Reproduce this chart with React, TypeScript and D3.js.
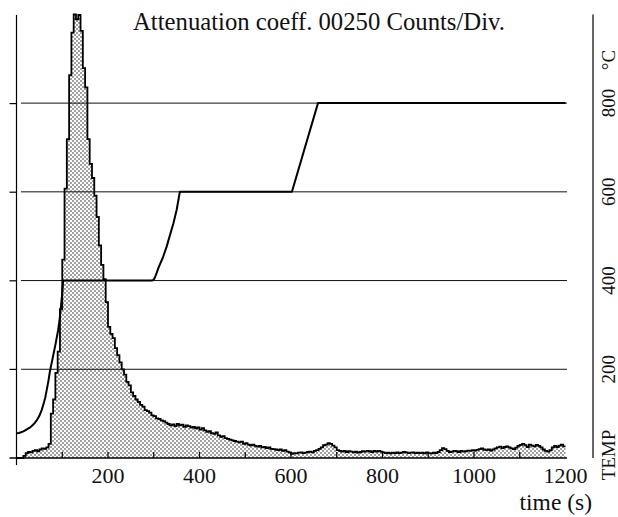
import React from "react";
import * as d3 from "d3";

// ---- data ----
const BIN_WIDTH = 5; // seconds per histogram bin, bins start at t = 0
const counts: number[] = [
  0, 0, 0, 6, 14, 17, 16, 20, 22, 19, 24, 27, 26, 30, 40, 125, 165, 240, 300, 420,
  560, 760, 900, 1080, 1200, 1252, 1238, 1250, 1205, 1100, 1046, 900, 830, 790, 740, 680, 600, 545, 505, 440,
  370, 350, 338, 310, 290, 270, 250, 235, 215, 205, 185, 175, 165, 158, 150, 145, 135, 132, 128, 120,
  118, 112, 110, 106, 104, 100, 96, 92, 95, 90, 96, 92, 94, 88, 92, 90, 86, 88, 84, 86,
  80, 84, 78, 74, 76, 70, 68, 72, 64, 60, 62, 56, 54, 52, 50, 48, 46, 44, 46, 40,
  42, 38, 36, 38, 34, 32, 34, 30, 31, 28, 30, 26, 25, 24, 22, 24, 20, 22, 18, 16,
  12, 14, 13, 15, 16, 14, 15, 17, 18, 16, 20, 22, 26, 30, 36, 38, 42, 40, 35, 30,
  22, 20, 18, 20, 17, 19, 18, 16, 18, 15, 17, 19, 18, 20, 19, 17, 20, 18, 20, 18,
  16, 14, 15, 13, 15, 14, 16, 14, 15, 17, 16, 14, 15, 16, 14, 15, 14, 15, 13, 16,
  14, 13, 15, 14, 17, 22, 28, 25, 20, 17, 18, 20, 19, 17, 20, 18, 19, 21, 20, 22,
  21, 23, 25, 27, 24, 22, 24, 21, 24, 27, 30, 32, 28, 31, 33, 30, 27, 25, 29, 34,
  37, 40, 36, 31, 38, 35, 33, 37, 34, 30, 24, 20, 18, 22, 30, 34, 31, 35, 38, 33,
];

const tempTime: number[] = [
  0, 5, 10, 15, 20, 25, 30, 35, 40, 45, 50, 55, 60, 63, 66, 70, 73, 77, 80, 85, 91, 94, 97, 100, 102,
  296, 300, 303, 306, 310, 320, 328, 343, 350, 357,
  602, 659, 1200,
];
const tempValue: number[] = [
  56, 56.5, 58, 60, 63, 66, 69, 74, 79, 86, 95, 108, 125, 137, 153, 175, 195, 215, 230, 255, 288, 310, 340, 372, 400,
  400, 402, 408, 416, 428, 452, 476, 529, 559, 600,
  600, 800, 800,
];

const tempGrid: number[] = [200, 400, 600, 800];
const countTicks: number[] = [250, 500, 750, 1000];
const xMinorTicks: number[] = [100, 200, 300, 400, 500, 600, 700, 800, 900, 1000, 1100];
const xLabels: number[] = [200, 400, 600, 800, 1000, 1200];

const TITLE = "Attenuation coeff. 00250 Counts/Div.";
const X_TITLE = "time (s)";
const UNIT = "°C";
const Y_TITLE = "TEMP";

const FONT = "'Liberation Serif', 'Times New Roman', serif";

export default function App() {
  const W = 618;
  const H = 517;
  const x = d3.scaleLinear().domain([0, 1200]).range([16.5, 565.5]);
  const yT = d3.scaleLinear().domain([0, 1000]).range([458, 458 - 443.6]);
  const yC = d3.scaleLinear().domain([0, 1250]).range([458, 15]);

  const bins = counts.map((c, i) => ({ t: i * BIN_WIDTH, c }));
  bins.push({ t: counts.length * BIN_WIDTH, c: counts[counts.length - 1] });

  const area = d3
    .area<{ t: number; c: number }>()
    .x((d) => x(d.t))
    .y0(yC(0))
    .y1((d) => yC(d.c))
    .curve(d3.curveStepAfter);
  const outline = d3
    .line<{ t: number; c: number }>()
    .x((d) => x(d.t))
    .y((d) => yC(d.c))
    .curve(d3.curveStepAfter);

  const tempPts = tempTime.map((t, i) => [t, tempValue[i]] as [number, number]);
  const tempLine = d3
    .line<[number, number]>()
    .x((d) => x(d[0]))
    .y((d) => yT(d[1]))
    .curve(d3.curveLinear);

  const x0 = x(0);
  const x1 = x(1200);
  const base = yC(0);
  const rightAxisX = x1 + 27.5;
  const labelX = x1 + 49.5;

  return (
    <svg
      width={W}
      height={H}
      style={{ position: "absolute", left: 0, top: 0, background: "#fff" }}
      fontFamily={FONT}
    >
      <defs>
        <pattern id="dots" width="4" height="4" patternUnits="userSpaceOnUse">
          <rect width="4" height="4" fill="#fff" />
          <circle cx="1" cy="1" r="0.8" fill="#2a2a2a" />
          <circle cx="3" cy="3" r="0.8" fill="#2a2a2a" />
        </pattern>
      </defs>

      {/* histogram */}
      <path d={area(bins) || ""} fill="url(#dots)" stroke="none" />
      <path d={outline(bins) || ""} fill="none" stroke="#000" strokeWidth={1.8} />

      {/* grid lines */}
      {tempGrid.map((v) => (
        <line key={v} x1={x0 + 4.5} x2={x1 + 1.5} y1={yT(v)} y2={yT(v)} stroke="#111" strokeWidth={1} />
      ))}

      {/* baseline and axes */}
      <line x1={x0 - 7} x2={x1 + 1.5} y1={base} y2={base} stroke="#000" strokeWidth={1.4} />
      <line x1={x0} x2={x0} y1={yC(1250)} y2={base + 7} stroke="#000" strokeWidth={1.2} />
      {countTicks.map((c) => (
        <line key={c} x1={x0 - 7} x2={x0} y1={yC(c)} y2={yC(c)} stroke="#000" strokeWidth={1.2} />
      ))}
      {xMinorTicks.map((t) => (
        <line key={t} x1={x(t)} x2={x(t)} y1={base} y2={base - 6} stroke="#000" strokeWidth={1.2} />
      ))}
      <line x1={rightAxisX} x2={rightAxisX} y1={yT(1000)} y2={base} stroke="#000" strokeWidth={1.2} />

      {/* temperature curve */}
      <path d={tempLine(tempPts) || ""} fill="none" stroke="#000" strokeWidth={2} strokeLinejoin="round" />

      {/* x labels */}
      {xLabels.map((t) => (
        <text key={t} x={x(t)} y={483} textAnchor="middle" fontSize={22} fill="#111">
          {t}
        </text>
      ))}
      <text x={592} y={510} textAnchor="end" fontSize={23.5} fill="#111">
        {X_TITLE}
      </text>

      {/* right temperature labels */}
      {tempGrid.map((v) => (
        <text
          key={v}
          transform={`translate(${labelX},${yT(v)}) rotate(-90)`}
          textAnchor="middle"
          fontSize={19}
          fill="#111"
        >
          {v}
        </text>
      ))}
      <text transform={`translate(${labelX},60) rotate(-90)`} textAnchor="middle" fontSize={19} fill="#111">
        {UNIT}
      </text>
      <text transform={`translate(${labelX},455) rotate(-90)`} textAnchor="middle" fontSize={19} fill="#111">
        {Y_TITLE}
      </text>

      {/* title */}
      <text x={133} y={30} fontSize={24.5} textLength={372} lengthAdjust="spacingAndGlyphs" fill="#111">
        {TITLE}
      </text>
    </svg>
  );
}
